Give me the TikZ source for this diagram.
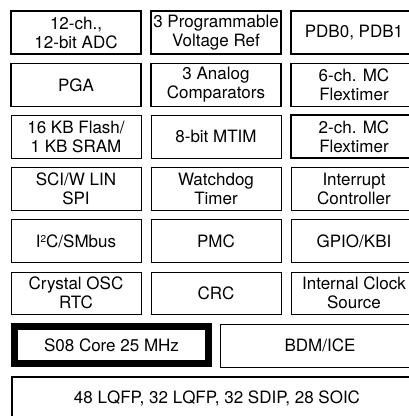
\documentclass[tikz,border=0pt]{standalone}
\usepackage{fontspec}
\setmainfont{TeX Gyre Heros}
\begin{document}
\begin{tikzpicture}[x=1pt,y=-1pt,
  txt/.style={font=\fontsize{17}{19}\selectfont},
  cell/.style={draw=black, line width=0.8pt, align=center, inner sep=0pt,
    txt, minimum height=43pt},
  c12/.style={cell, minimum width=130pt},
  c3/.style={cell, minimum width=126pt},
  thick cell/.style={line width=1.6pt}]
\useasboundingbox (0,0) rectangle (409,416);
\clip (0,0) rectangle (409,416);
% row 1
\node[c12, thick cell] (adc) at (76,32.5) {12-ch.,\\12-bit ADC};
\node[c12, thick cell] (vref) at (216,32.5) {3 Programmable\\Voltage Ref};
\node[c3, thick cell] (pdb) at (354,32.5) {PDB0, PDB1};
% row 2
\node[c12, thick cell] (pga) at (76,85) {PGA};
\node[c12, thick cell] (acmp) at (216,85) {3 Analog\\Comparators};
\node[c3, thick cell] (ftm6) at (354,85) {6-ch. MC\\Flextimer};
% row 3
\node[c12] (flash) at (76,136.5) {16 KB Flash/\\1 KB SRAM};
\node[c12] (mtim) at (216,136.5) {8-bit MTIM};
\node[c3, thick cell] (ftm2) at (354,136.5) {2-ch. MC\\Flextimer};
% row 4
\node[c12] (sci) at (76,189) {SCI/W LIN\\SPI};
\node[c12] (wdog) at (216,189) {Watchdog\\Timer};
\node[c3] (irq) at (354,189) {Interrupt\\Controller};
% row 5
\node[c12] (iic) at (76,241) {I\raisebox{0.55ex}{\fontsize{10}{10}\selectfont 2}C/SMbus};
\node[c12] (pmc) at (216,241) {PMC};
\node[c3] (gpio) at (354,241) {GPIO/KBI};
% row 6
\node[c12, minimum height=42pt] (osc) at (76,293) {Crystal OSC\\RTC};
\node[c12, minimum height=42pt] (crc) at (216,293) {CRC};
\node[c3, minimum height=42pt] (ics) at (354,293) {Internal Clock\\Source};
% core row
\node[cell, line width=7pt, minimum width=194pt, minimum height=37pt] (core) at (111.5,345) {S08 Core 25 MHz};
\node[cell, minimum width=200pt, minimum height=43pt] (bdm) at (320,345.5) {BDM/ICE};
% packages
\node[cell, line width=1.6pt, minimum width=410pt, minimum height=60pt] (pkg) at (217,407) {};
\node[txt] (pkgtext) at (217,398) {48 LQFP, 32 LQFP, 32 SDIP, 28 SOIC};
\end{tikzpicture}
\end{document}
